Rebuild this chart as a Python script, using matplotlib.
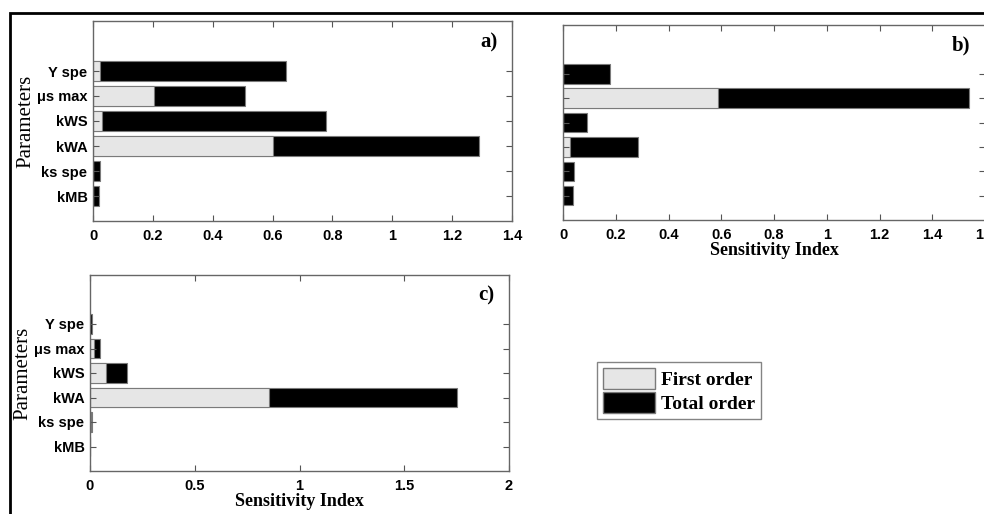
import numpy as np
import matplotlib.pyplot as plt
from matplotlib.patches import Rectangle

params = ['kMB', 'ks spe', 'kWA', 'kWS', 'μs max', 'Y spe']

# panel a)
first_a = [0.0, 0.0, 0.60, 0.03, 0.203, 0.024]
total_a = [0.021, 0.023, 1.29, 0.78, 0.507, 0.645]
# panel b)
first_b = [0.0, 0.0, 0.027, 0.0, 0.586, 0.0]
total_b = [0.038, 0.042, 0.286, 0.09, 1.538, 0.178]
# panel c)
first_c = [0.0, 0.003, 0.856, 0.078, 0.02, 0.002]
total_c = [0.0, 0.01, 1.753, 0.177, 0.05, 0.008]

xticks_a = [0, 0.2, 0.4, 0.6, 0.8, 1, 1.2, 1.4]
xticks_b = [0, 0.2, 0.4, 0.6, 0.8, 1, 1.2, 1.4, 1.6]
xticks_c = [0, 0.5, 1, 1.5, 2]

W, H = 984, 514
fig = plt.figure(figsize=(W / 100, H / 100), dpi=100)

light = '#e6e6e6'
edge = '#7a7a7a'
tick_font = dict(family='Liberation Sans', weight='bold', size=10.5)
serif = 'Liberation Serif'


def box(x0, y0, x1, y1):
    # pixel coords -> figure fraction
    return [x0 / W, 1 - y1 / H, (x1 - x0) / W, (y1 - y0) / H]


def panel(rect, first, total, xlim, xticks, tag, ylabels=True, xlabel=True):
    ax = fig.add_axes(box(*rect))
    y = np.arange(1, len(params) + 1)
    ax.barh(y, total, height=0.8, color='black', edgecolor=edge, linewidth=0.8)
    ax.barh(y, first, height=0.8, color=light, edgecolor=edge, linewidth=0.8)
    ax.set_xlim(*xlim)
    ax.set_ylim(0, 8)
    ax.set_xticks(xticks)
    ax.set_xticklabels([f'{t:g}' for t in xticks], fontdict=tick_font)
    ax.set_yticks(y)
    if ylabels:
        ax.set_yticklabels(params, fontdict=tick_font)
        ax.set_ylabel('Parameters', family=serif, size=15, labelpad=1)
    else:
        ax.set_yticklabels([])
    if xlabel:
        ax.set_xlabel('Sensitivity Index', family=serif, weight='bold', size=13, labelpad=0.5)
    ax.tick_params(direction='in', length=4, width=0.8, color='#555555',
                   top=True, right=True)
    ax.tick_params(axis='x', pad=5.5)
    ax.tick_params(axis='y', pad=4)
    for s in ax.spines.values():
        s.set_color('#666666')
        s.set_linewidth(1.0)
    ax.text(0.965, 0.895, tag, transform=ax.transAxes, ha='right', va='center',
            family=serif, weight='bold', size=15)
    return ax


panel((93, 21, 512, 221), first_a, total_a, (0, 1.4), xticks_a, 'a)', xlabel=False)
panel((563, 25, 985, 220), first_b, total_b, (0, 1.6), xticks_b, 'b)', ylabels=False)
axc = panel((90, 275, 509, 471), first_c, total_c, (0, 2), xticks_c, 'c)')

# legend
handles = [Rectangle((0, 0), 1, 1, facecolor=light, edgecolor=edge),
           Rectangle((0, 0), 1, 1, facecolor='black', edgecolor=edge)]
fig.legend(handles, ['First order', 'Total order'], loc='upper left',
           bbox_to_anchor=(597 / W, 1 - 362 / H),
           prop=dict(family=serif, weight='bold', size=14),
           frameon=True, fancybox=False, edgecolor='#666666',
           handlelength=2.7, handleheight=1.3, handletextpad=0.3,
           labelspacing=0.15, borderpad=0.3, borderaxespad=0)

# outer frame of the figure
fig.add_artist(Rectangle((10 / W, -0.1), 1.2, 1 - 13 / H + 0.1, transform=fig.transFigure,
                         fill=False, edgecolor='black', linewidth=2))

fig.savefig('out.png', dpi=100)
